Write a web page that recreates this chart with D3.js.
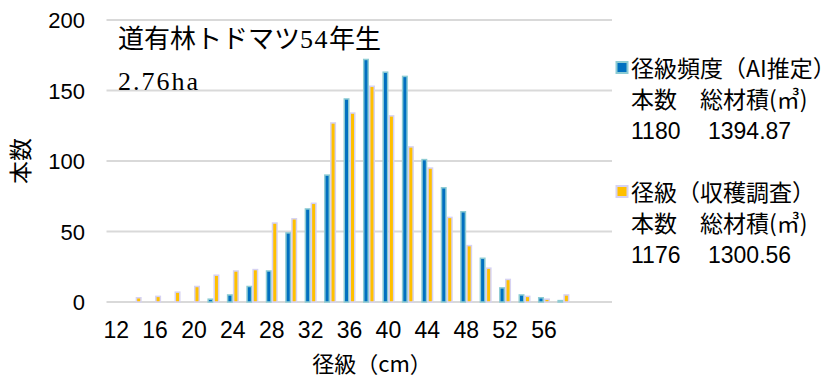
<!DOCTYPE html>
<html>
<head>
<meta charset="utf-8">
<script src="https://cdn.jsdelivr.net/npm/d3@7/dist/d3.min.js"></script>
<style>
  html, body { margin: 0; padding: 0; background: #fff; }
  svg { display: block; }
  text { font-family: "Liberation Sans", "Noto Sans CJK JP", sans-serif; fill: #000; }
</style>
</head>
<body>
<svg id="chart" width="840" height="380"></svg>
<script>
// Diameter classes (cm) and tree counts per class
const categories = [12, 14, 16, 18, 20, 22, 24, 26, 28, 30, 32, 34, 36, 38, 40, 42, 44, 46, 48, 50, 52, 54, 56, 58, 60, 62];
const aiCounts =     [0, 0, 0, 0, 0, 2, 5, 11, 22, 49, 66, 90, 144, 172, 163, 160, 101, 81, 64, 31, 10, 5, 3, 1, 0, 0];
const surveyCounts = [0, 3, 4, 7, 11, 19, 22, 23, 56, 59, 70, 127, 134, 153, 132, 110, 95, 60, 40, 24, 16, 4, 2, 5, 0, 0];
const xTickLabels = [12, 16, 20, 24, 28, 32, 36, 40, 44, 48, 52, 56];
const yTicks = [0, 50, 100, 150, 200];

const seriesNames = ["径級頻度（AI推定）", "径級（収穫調査）"];
const seriesTotals = [["1180", "1394.87"], ["1176", "1300.56"]];
const totalsHeader = "本数　総材積(㎥)";
const standName = ["道有林トドマツ", "54", "年生"];
const standArea = "2.76ha";
const xTitle = "径級（cm）";
const yTitle = "本数";

const colors = [
  { fill: "#0070c0", edge: "#8ccbd3" },
  { fill: "#ffc000", edge: "#d6d2f2" }
];

const svg = d3.select("#chart");
const plot = { left: 106.5, right: 612, top: 20, bottom: 302 };

const x = d3.scaleBand().domain(categories).range([plot.left, plot.right]).padding(0);
const xs = d3.scaleBand().domain([0, 1]).range([0, x.bandwidth()]).paddingInner(0).paddingOuter(0.62);
const y = d3.scaleLinear().domain([0, 200]).range([plot.bottom, plot.top]);

// Horizontal gridlines
svg.append("g").selectAll("line").data(yTicks).join("line")
  .attr("x1", plot.left).attr("x2", plot.right)
  .attr("y1", d => y(d)).attr("y2", d => y(d))
  .attr("stroke", "#d9d9d9").attr("stroke-width", 2);

// Y axis labels
const yAxis = d3.axisLeft(y).tickValues(yTicks).tickSize(0).tickPadding(0);
const gy = svg.append("g").attr("transform", "translate(85,0)").call(yAxis);
gy.select(".domain").remove();
gy.selectAll("text").style("font-size", "22px").attr("dy", "0.36em")
  .style("font-family", "'Liberation Sans', sans-serif").attr("fill", "#000");

// X axis labels (every other class)
const xAxis = d3.axisBottom(x).tickValues(xTickLabels).tickSize(0).tickPadding(0);
const gx = svg.append("g").attr("transform", "translate(0,322)").call(xAxis);
gx.select(".domain").remove();
gx.selectAll("text").style("font-size", "23px").attr("dy", "0.71em")
  .style("font-family", "'Liberation Sans', sans-serif").attr("fill", "#000");

// Bars
const series = [aiCounts, surveyCounts];
const sw = 1.5;
series.forEach((vals, si) => {
  svg.append("g").selectAll("rect").data(categories.map((c, i) => ({ c, v: vals[i] })).filter(d => d.v > 0))
    .join("rect")
    .attr("x", d => x(d.c) + xs(si) + sw / 2)
    .attr("width", xs.bandwidth() - sw)
    .attr("y", d => y(d.v))
    .attr("height", d => y(0) - y(d.v))
    .attr("fill", colors[si].fill)
    .attr("stroke", colors[si].edge)
    .attr("stroke-width", sw);
});

// Stand name and area
const title = svg.append("text").attr("x", 118).attr("y", 48).style("font-size", "26px");
title.append("tspan").text(standName[0]).style("font-family", "'Noto Sans CJK JP', sans-serif");
title.append("tspan").text(standName[1]).style("font-family", "'Liberation Serif', serif").attr("letter-spacing", "1.5px");
title.append("tspan").text(standName[2]).style("font-family", "'Noto Sans CJK JP', sans-serif");
svg.append("text").attr("x", 118).attr("y", 90).text(standArea)
  .style("font-family", "'Liberation Serif', serif").style("font-size", "26px").attr("letter-spacing", "2px");

// Legend
const legendTop = [77, 201];
const lineGap = 31;
seriesNames.forEach((name, si) => {
  const g = svg.append("g");
  const base = legendTop[si];
  g.append("rect").attr("x", 616.5).attr("y", base - 15).attr("width", 11).attr("height", 11)
    .attr("fill", colors[si].fill).attr("stroke", colors[si].edge).attr("stroke-width", 2);
  g.append("text").attr("x", 631).attr("y", base).text(name)
    .style("font-size", "23px").style("font-family", "'Noto Sans CJK JP', sans-serif");
  g.append("text").attr("x", 631).attr("y", base + lineGap).text(totalsHeader)
    .style("font-size", "23px").style("font-family", "'Noto Sans CJK JP', sans-serif");
  const t = g.append("text").attr("x", 631).attr("y", base + lineGap * 2).style("font-size", "23px");
  t.append("tspan").text(seriesTotals[si][0]);
  t.append("tspan").attr("x", 708).text(seriesTotals[si][1]);
});

// Axis titles
svg.append("text").attr("x", 372).attr("y", 372).attr("text-anchor", "middle").text(xTitle)
  .style("font-size", "22px").style("font-family", "'Noto Sans CJK JP', sans-serif");
svg.append("text").attr("transform", "translate(29,161) rotate(-90)").attr("text-anchor", "middle").text(yTitle)
  .style("font-size", "23px").style("font-family", "'Noto Sans CJK JP', sans-serif");
</script>
</body>
</html>
